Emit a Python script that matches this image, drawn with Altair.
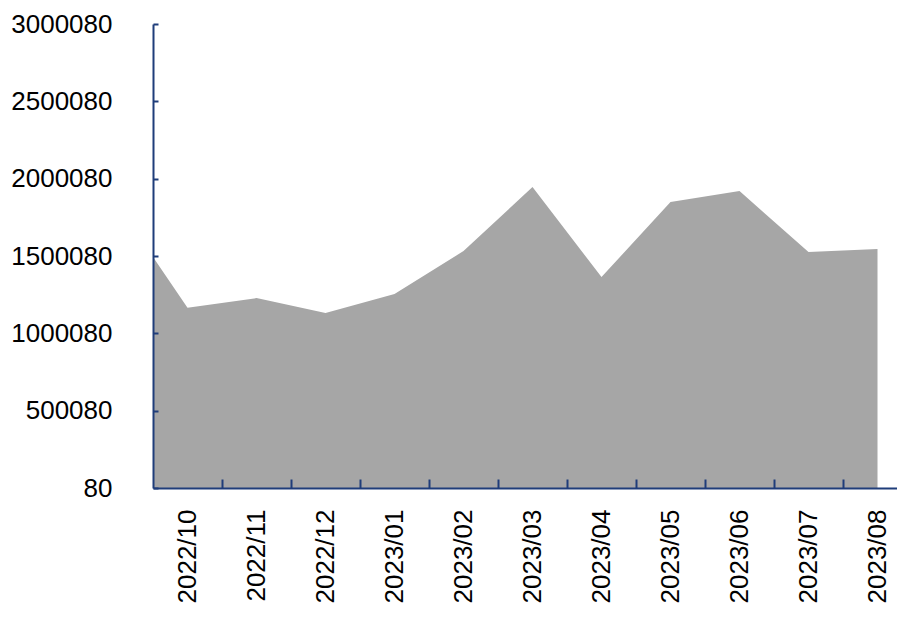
import json
import altair as alt
import pandas as pd

# ---- data ----
months = ["2022/09", "2022/10", "2022/11", "2022/12", "2023/01", "2023/02",
          "2023/03", "2023/04", "2023/05", "2023/06", "2023/07", "2023/08"]
values = [1823000, 1165000, 1228000, 1131000, 1254000, 1532000,
          1946000, 1364000, 1849000, 1920000, 1526000, 1545000]
y_ticks = [80, 500080, 1000080, 1500080, 2000080, 2500080, 3000080]
shown_months = months[1:]

idx = list(range(-1, len(months) - 1))
df = pd.DataFrame({"idx": idx, "month": months, "value": values})

AXIS_COLOR = "#1f3d7a"
FONT = "Liberation Sans"
BAND = 69
W = 744
H = 464

x_scale = alt.Scale(domain=[-0.5, -0.5 + W / BAND], nice=False, zero=False)
y_scale = alt.Scale(domain=[y_ticks[0], y_ticks[-1]], nice=False, zero=False)

label_expr = json.dumps(shown_months) + "[datum.value]"

x_label_axis = alt.Axis(
    orient="bottom", values=list(range(len(shown_months))), labelExpr=label_expr,
    labelAngle=270, labelAlign="right", labelBaseline="middle",
    labelFont=FONT, labelFontSize=26, labelColor="#000000", labelPadding=21,
    ticks=False, tickSize=0, domain=True, domainColor=AXIS_COLOR, domainWidth=2,
    grid=False, title=None, labelOverlap=False, zindex=1,
)
y_label_axis = alt.Axis(
    orient="left", values=y_ticks, format="d",
    labelFont=FONT, labelFontSize=26, labelColor="#000000", labelPadding=41,
    ticks=False, tickSize=0, domain=True, domainColor=AXIS_COLOR, domainWidth=2,
    grid=False, title=None, labelOverlap=False, zindex=1,
)
x_tick_axis = alt.Axis(
    orient="bottom", values=[i + 0.5 for i in range(len(shown_months) - 1)],
    labels=False, ticks=True, tickSize=9, tickWidth=2, tickColor=AXIS_COLOR,
    offset=-9, domain=False, grid=False, title=None, zindex=2,
)
y_tick_axis = alt.Axis(
    orient="left", values=y_ticks, labels=False, ticks=True, tickSize=5,
    tickWidth=2, tickColor=AXIS_COLOR, offset=-5, domain=False, grid=False,
    title=None, zindex=2,
)

base = alt.Chart(df)
area = base.mark_area(color="#a6a6a6", clip=True).encode(
    x=alt.X("idx:Q", scale=x_scale, axis=x_label_axis),
    y=alt.Y("value:Q", scale=y_scale, axis=y_label_axis),
)
tick_layer = base.mark_point(opacity=0).encode(
    x=alt.X("idx:Q", scale=x_scale, axis=x_tick_axis),
    y=alt.Y("value:Q", scale=y_scale, axis=y_tick_axis),
)

chart = alt.layer(area, tick_layer).resolve_axis(
    x="independent", y="independent"
).properties(
    width=W, height=H,
    autosize=alt.AutoSizeParams(type="none"),
    padding={"left": 145, "top": 16, "right": 0, "bottom": 125},
).configure_view(stroke=None)

chart.save("out.html", embed_options={"renderer": "svg", "actions": False})
